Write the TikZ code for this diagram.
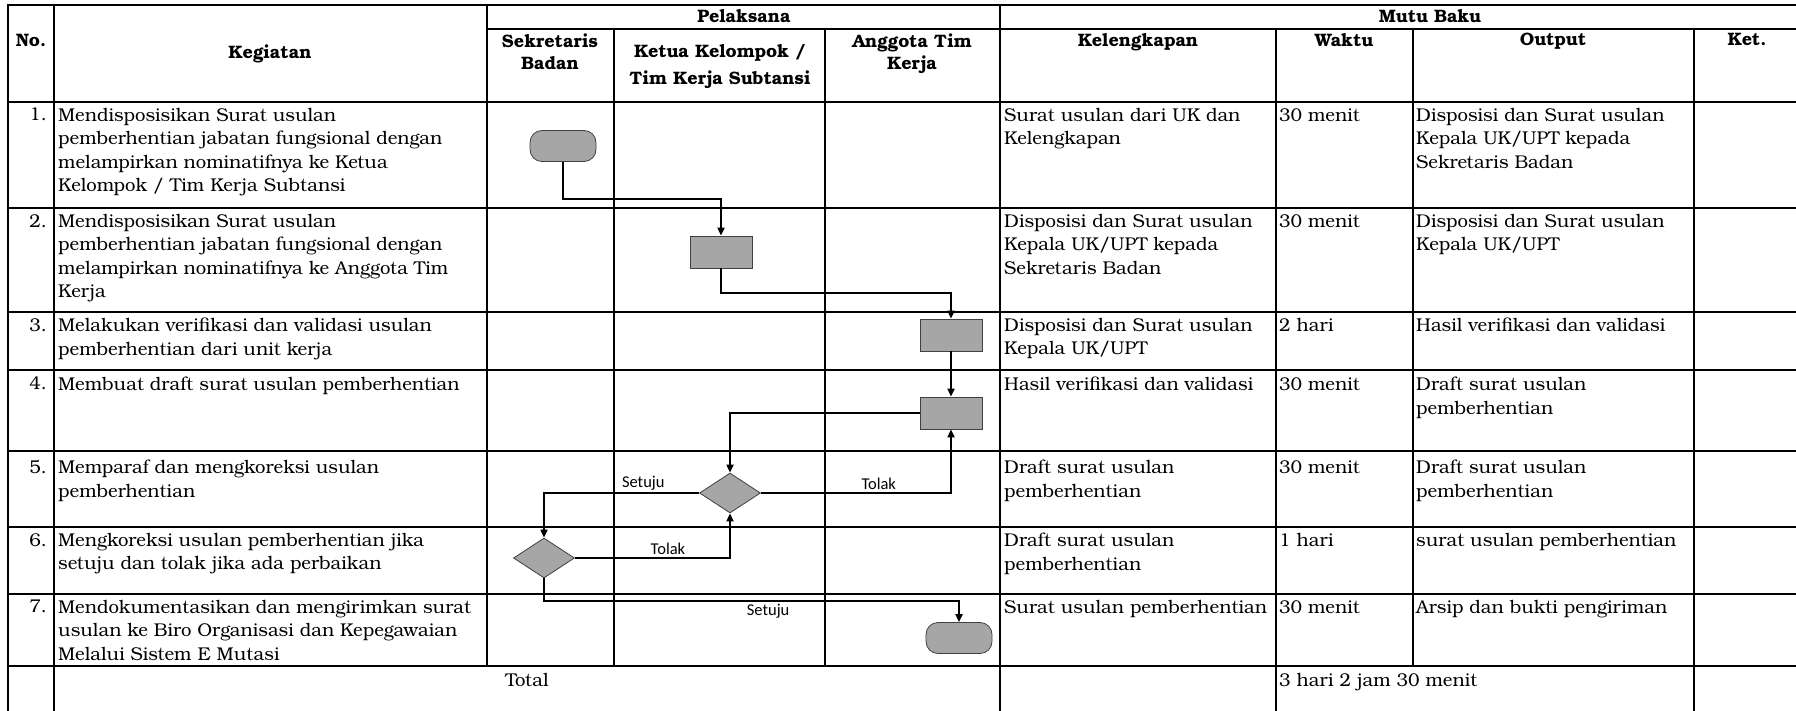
\documentclass[tikz,border=0pt]{standalone}
\usepackage{fontspec}
\setmainfont{TeX Gyre Bonum}
\newfontfamily\labelfont{Carlito}
\usetikzlibrary{shapes.geometric,arrows.meta}

\begin{document}
\begin{tikzpicture}[x=1pt,y=-1pt,
    grid/.style={line width=2pt,line cap=rect},
    head/.style={inner sep=0pt,font=\bfseries\fontsize{18}{22}\selectfont},
    cell/.style={anchor=north west,inner sep=0pt,align=left,font=\fontsize{18.5}{23.3}\selectfont},
    num/.style={anchor=north east,inner sep=0pt,font=\fontsize{18.5}{23.3}\selectfont},
    proc/.style={draw=black!75,fill=black!35,line width=0.8pt,minimum width=62pt,minimum height=32pt,inner sep=0pt},
    term/.style={proc,rounded corners=12pt,minimum width=66pt,minimum height=31pt},
    dec/.style={proc,diamond,minimum width=61pt,minimum height=40pt},
    flow/.style={line width=1.9pt,-{Triangle[length=8pt,width=7pt]}},
    lbl/.style={inner sep=2pt,font=\labelfont\fontsize{16.5}{16.5}\selectfont}]
    \useasboundingbox (0,0) rectangle (1796,711);
    \clip (0,0) rectangle (1796,711);

    % table lines
    \draw[grid] (8,5) -- (1810,5) (487,29) -- (1810,29);
    \foreach \y in {102,208,312,370,451,527,594,666}
        \draw[grid] (8,\y) -- (1810,\y);
    \draw[grid]
        (8,5) -- (8,720)
        (54,5) -- (54,720)
        (487,5) -- (487,666)
        (614,29) -- (614,666)
        (825,29) -- (825,666)
        (1000,5) -- (1000,720)
        (1276,29) -- (1276,720)
        (1413,29) -- (1413,666)
        (1694,29) -- (1694,720)
    ;

    % header
    \node[head,anchor=north] (hNo) at (31,34) {No.};
    \node[head,anchor=north] (hKeg) at (270,45) {Kegiatan};
    \node[head,anchor=north] (hPel) at (744,9) {Pelaksana};
    \node[head,anchor=north] (hMutu) at (1430,9) {Mutu Baku};
    \node[head,anchor=north,align=center] (hSek) at (550,34) {Sekretaris\\Badan};
    \node[head,anchor=north,align=center,font=\bfseries\fontsize{18}{27}\selectfont] (hKetua) at (720,44) {Ketua Kelompok /\\Tim Kerja Subtansi};
    \node[head,anchor=north,align=center] (hAng) at (912,34) {Anggota Tim\\Kerja};
    \node[head,anchor=north] (hKel) at (1138,33) {Kelengkapan};
    \node[head,anchor=north] (hWak) at (1344,33) {Waktu};
    \node[head,anchor=north] (hOut) at (1553,33) {Output};
    \node[head,anchor=north] (hKet) at (1747,33) {Ket.};

    % rows
    \node[num] (n1) at (47,108) {1.};
    \node[cell] (k1) at (58,108) {Mendisposisikan Surat usulan\\pemberhentian jabatan fungsional dengan\\melampirkan nominatifnya ke Ketua\\Kelompok / Tim Kerja Subtansi};
    \node[cell] (l1) at (1004,108) {Surat usulan dari UK dan\\Kelengkapan};
    \node[cell] (w1) at (1279,108) {30 menit};
    \node[cell] (o1) at (1416,108) {Disposisi dan Surat usulan\\Kepala UK/UPT kepada\\Sekretaris Badan};

    \node[num] (n2) at (47,214) {2.};
    \node[cell] (k2) at (58,214) {Mendisposisikan Surat usulan\\pemberhentian jabatan fungsional dengan\\melampirkan nominatifnya ke Anggota Tim\\Kerja};
    \node[cell] (l2) at (1004,214) {Disposisi dan Surat usulan\\Kepala UK/UPT kepada\\Sekretaris Badan};
    \node[cell] (w2) at (1279,214) {30 menit};
    \node[cell] (o2) at (1416,214) {Disposisi dan Surat usulan\\Kepala UK/UPT};

    \node[num] (n3) at (47,318) {3.};
    \node[cell] (k3) at (58,318) {Melakukan verifikasi dan validasi usulan\\pemberhentian dari unit kerja};
    \node[cell] (l3) at (1004,318) {Disposisi dan Surat usulan\\Kepala UK/UPT};
    \node[cell] (w3) at (1279,318) {2 hari};
    \node[cell] (o3) at (1416,318) {Hasil verifikasi dan validasi};

    \node[num] (n4) at (47,377) {4.};
    \node[cell] (k4) at (58,377) {Membuat draft surat usulan pemberhentian};
    \node[cell] (l4) at (1004,377) {Hasil verifikasi dan validasi};
    \node[cell] (w4) at (1279,377) {30 menit};
    \node[cell] (o4) at (1416,377) {Draft surat usulan\\pemberhentian};

    \node[num] (n5) at (47,460) {5.};
    \node[cell] (k5) at (58,460) {Memparaf dan mengkoreksi usulan\\pemberhentian};
    \node[cell] (l5) at (1004,460) {Draft surat usulan\\pemberhentian};
    \node[cell] (w5) at (1279,460) {30 menit};
    \node[cell] (o5) at (1416,460) {Draft surat usulan\\pemberhentian};

    \node[num] (n6) at (47,533) {6.};
    \node[cell] (k6) at (58,533) {Mengkoreksi usulan pemberhentian jika\\setuju dan tolak jika ada perbaikan};
    \node[cell] (l6) at (1004,533) {Draft surat usulan\\pemberhentian};
    \node[cell] (w6) at (1279,533) {1 hari};
    \node[cell] (o6) at (1416,533) {surat usulan pemberhentian};

    \node[num] (n7) at (47,600) {7.};
    \node[cell] (k7) at (58,600) {Mendokumentasikan dan mengirimkan surat\\usulan ke Biro Organisasi dan Kepegawaian\\Melalui Sistem E Mutasi};
    \node[cell] (l7) at (1004,600) {Surat usulan pemberhentian};
    \node[cell] (w7) at (1279,600) {30 menit};
    \node[cell] (o7) at (1416,600) {Arsip dan bukti pengiriman};

    \node[cell,anchor=north] (tot) at (527,673) {Total};
    \node[cell] (wtot) at (1279,673) {3 hari 2 jam 30 menit};

    % flow
    \node[term] (t1) at (563,146) {};
    \node[proc] (b2) at (721,252) {};
    \node[proc] (b3) at (951,335) {};
    \node[proc] (b4) at (951,413) {};
    \node[dec] (d5) at (730,493) {};
    \node[dec] (d6) at (544,558) {};
    \node[term] (t7) at (959,638) {};

    \draw[flow] (t1.south) -- ++(0,37) -| (b2.north);
    \draw[flow] (b2.south) -- ++(0,25) -| (b3.north);
    \draw[flow] (b3.south) -- (b4.north);
    \draw[flow] (b4.west) -| (d5.north);
    \draw[flow] (d5.east) -| node[lbl,above,pos=0.31] {Tolak} (b4.south);
    \draw[flow] (d5.west) -| node[lbl,above,pos=0.18] {Setuju} (d6.north);
    \draw[flow] (d6.east) -| node[lbl,above,pos=0.3] {Tolak} (d5.south);
    \draw[flow] (d6.south) -- ++(0,23) -| node[lbl,below,pos=0.27] {Setuju} (t7.north);
\end{tikzpicture}
\end{document}
